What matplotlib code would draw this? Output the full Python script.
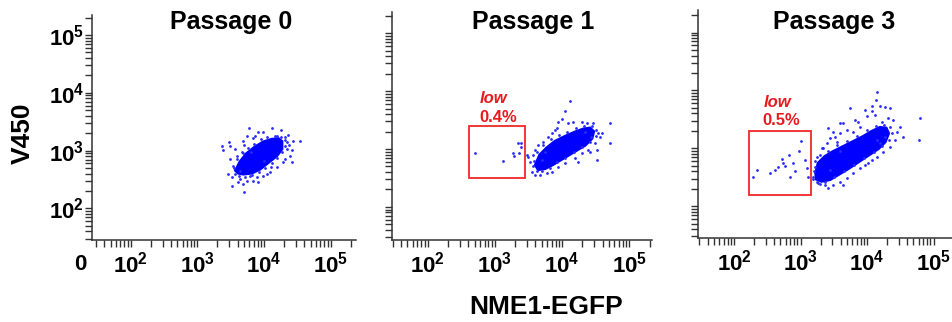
import numpy as np
import matplotlib
matplotlib.use("Agg")
import matplotlib.pyplot as plt
from matplotlib.patches import Rectangle
from matplotlib.ticker import LogLocator, FuncFormatter, NullFormatter

plt.rcParams['font.family'] = ['Liberation Sans', 'DejaVu Sans']
plt.rcParams['font.weight'] = 'bold'
plt.rcParams['mathtext.fontset'] = 'custom'
plt.rcParams['mathtext.rm'] = 'Liberation Sans:bold'
plt.rcParams['mathtext.bf'] = 'Liberation Sans:bold'
plt.rcParams['mathtext.it'] = 'Liberation Sans:bold:italic'

# all values are log10 of fluorescence (x: NME1-EGFP, y: V450)
titles = ['Passage 0', 'Passage 1', 'Passage 3']

# dense core outline of each population
p0_core_x = [3.579, 3.639, 3.739, 3.864, 3.988, 4.114, 4.213, 4.264, 4.264, 4.189, 4.063, 3.939, 3.814, 3.688, 3.613]
p0_core_y = [2.654, 2.798, 2.943, 3.057, 3.144, 3.190, 3.202, 3.156, 3.029, 2.913, 2.798, 2.683, 2.614, 2.597, 2.614]
p1_core_x = [3.607, 3.671, 3.770, 3.894, 4.043, 4.192, 4.316, 4.415, 4.465, 4.440, 4.341, 4.217, 4.093, 3.969, 3.845, 3.745, 3.646]
p1_core_y = [2.724, 2.896, 3.012, 3.127, 3.213, 3.288, 3.340, 3.357, 3.299, 3.184, 3.069, 2.983, 2.896, 2.810, 2.724, 2.666, 2.649]
p3_core_x = [3.233, 3.268, 3.368, 3.493, 3.644, 3.794, 3.944, 4.070, 4.195, 4.285, 4.320, 4.270, 4.170, 4.020, 3.869, 3.719, 3.568, 3.443, 3.318, 3.243]
p3_core_y = [2.567, 2.740, 2.855, 2.942, 3.028, 3.114, 3.201, 3.287, 3.356, 3.345, 3.258, 3.114, 2.999, 2.884, 2.769, 2.654, 2.550, 2.464, 2.435, 2.470]

# scattered events
p0_x = [3.779, 4.114, 4.249, 3.904, 3.989, 4.364, 4.439, 4.539, 3.829, 3.689, 3.479, 3.364, 3.379, 3.489, 3.564, 3.489,
        3.539, 3.464, 3.514, 3.639, 3.689, 3.614, 3.514, 3.704, 3.789, 3.889, 3.989, 4.089, 4.189, 4.314, 4.389, 4.339,
        4.374, 4.414, 4.189, 4.314, 3.739, 3.864, 3.664, 3.589, 3.914, 4.039, 3.839, 3.739, 4.289, 4.414, 3.639, 4.339,
        3.55, 3.60, 3.68, 3.76, 3.85, 3.95, 4.05, 4.16, 4.25, 4.31, 4.31, 4.27, 4.20, 4.12, 4.02, 3.92, 3.82, 3.72,
        3.63, 3.57, 3.70, 4.10, 3.80, 4.00]
p0_y = [3.393, 3.393, 3.364, 3.318, 3.329, 3.271, 3.173, 3.173, 3.214, 3.162, 3.156, 3.075, 3.012, 3.087, 3.029, 2.856,
        2.741, 2.597, 2.539, 2.510, 2.424, 2.453, 2.383, 2.291, 2.568, 2.539, 2.556, 2.637, 2.712, 2.856, 2.914, 3.029,
        3.098, 3.006, 3.248, 3.231, 3.260, 3.248, 2.983, 2.914, 2.464, 2.597, 2.481, 2.481, 2.799, 2.799, 2.654, 3.145,
        2.70, 2.86, 2.95, 3.04, 3.12, 3.20, 3.24, 3.26, 3.24, 3.18, 3.08, 2.98, 2.87, 2.78, 2.70, 2.63, 2.57, 2.55,
        2.56, 2.60, 3.10, 2.72, 2.98, 2.82]
p1_x = [4.117, 4.043, 3.944, 3.993, 4.093, 4.167, 4.291, 4.365, 4.465, 4.539, 4.599, 4.564, 4.713, 4.713, 4.489, 4.514,
        4.415, 4.291, 4.192, 4.043, 3.944, 3.845, 3.770, 3.671, 3.597, 3.547, 3.522, 3.572, 3.597, 3.646, 3.721, 3.795,
        3.845, 3.894, 3.473, 3.497, 3.349, 3.359, 4.514, 4.241, 4.341, 4.430, 3.696, 3.919,
        3.58, 3.63, 3.72, 3.83, 3.95, 4.08, 4.20, 4.33, 4.45, 4.51, 4.50, 4.42, 4.30, 4.18, 4.05, 3.93, 3.82, 3.70,
        3.62, 3.57, 4.38, 3.75,
        2.704, 3.116, 3.274, 3.289, 3.384, 3.388]
p1_y = [3.835, 3.662, 3.472, 3.512, 3.443, 3.472, 3.472, 3.455, 3.443, 3.271, 3.271, 3.213, 3.443, 3.098, 3.098, 2.983,
        2.954, 2.925, 2.839, 2.764, 2.683, 2.609, 2.580, 2.551, 2.551, 2.609, 2.781, 2.896, 2.983, 3.069, 3.127, 3.213,
        3.271, 3.328, 2.896, 2.868, 3.109, 2.925, 2.810, 2.781, 3.299, 3.213, 2.810, 3.357,
        2.80, 2.95, 3.07, 3.17, 3.25, 3.30, 3.36, 3.40, 3.40, 3.33, 3.22, 3.12, 3.03, 2.94, 2.85, 2.77, 2.68, 2.62,
        2.62, 2.70, 2.98, 2.95,
        2.926, 2.798, 2.936, 2.879, 3.109, 3.040]
p3_x = [4.145, 4.135, 4.070, 4.195, 4.270, 4.345, 3.969, 3.744, 4.070, 3.994, 4.120, 4.320, 4.395, 4.220, 3.869, 3.819,
        3.594, 3.644, 3.418, 3.493, 3.594, 3.694, 3.794, 3.894, 4.496, 4.536, 4.446, 4.421, 4.797, 4.787, 4.345, 4.245,
        4.145, 4.020, 3.894, 3.794, 3.694, 3.594, 3.493, 3.368, 3.293, 3.243, 3.192, 3.218, 3.243, 3.343, 3.393, 3.443,
        3.318, 3.543, 3.518, 4.270, 4.195, 3.969, 4.070, 3.644, 3.418,
        3.20, 3.22, 3.30, 3.42, 3.55, 3.70, 3.85, 4.00, 4.13, 4.25, 4.35, 4.37, 4.33, 4.23, 4.10, 3.95, 3.80, 3.65,
        3.50, 3.37, 3.27, 3.19, 3.60, 4.15, 3.45,
        3.007, 2.982, 2.832, 2.717, 2.742, 2.616, 2.541, 2.351, 2.290, 2.666, 2.892, 2.917, 3.093, 3.067, 3.108, 2.842, 2.767]
p3_y = [3.966, 3.834, 3.736, 3.736, 3.719, 3.702, 3.661, 3.690, 3.644, 3.563, 3.575, 3.529, 3.488, 3.460, 3.460, 3.488,
        3.431, 3.431, 3.345, 3.287, 3.258, 3.316, 3.287, 3.373, 3.373, 3.201, 3.287, 3.143, 3.517, 3.143, 3.028, 2.942,
        2.855, 2.740, 2.654, 2.567, 2.481, 2.423, 2.366, 2.366, 2.377, 2.423, 2.510, 2.683, 2.855, 2.999, 3.086, 3.172,
        3.011, 3.114, 3.201, 3.201, 3.086, 2.711, 2.798, 2.366, 2.308,
        2.60, 2.78, 2.88, 2.96, 3.05, 3.13, 3.22, 3.31, 3.38, 3.41, 3.37, 3.27, 3.15, 3.04, 2.94, 2.83, 2.71, 2.60,
        2.50, 2.41, 2.40, 2.47, 2.95, 3.15, 2.62,
        3.132, 2.960, 2.885, 2.810, 2.752, 2.626, 2.568, 2.626, 2.510, 2.683, 2.741, 2.614, 2.654, 2.798, 2.499, 2.510, 2.695]

# "low" gates (x0, x1, y0, y1) and their percentages
gates = [None, (2.615, 3.448, 2.499, 3.397), (2.230, 3.158, 2.193, 3.299)]
gate_pct = [None, '0.4%', '0.5%']

W, H = 953, 322
fig = plt.figure(figsize=(W / 100, H / 100), dpi=100)

# axes extents in pixels (left, right, top, bottom) and log10 limits
boxes = [(92.3, 356, 15, 240), (391.7, 651.7, 11.7, 240), (698.3, 953, 10, 238)]
xlims = [(1.424, 5.379), (1.464, 5.333), (1.463, 5.293)]
ylims = [(1.452, 5.346), (1.428, 5.371), (1.451, 5.389)]
title_x = [230.8, 533, 834]
low_pos = [None, (493.7, 103.3, 498.3, 121.7), (777.5, 106.7, 781, 125)]

cores = [(p0_core_x, p0_core_y), (p1_core_x, p1_core_y), (p3_core_x, p3_core_y)]
events = [(p0_x, p0_y), (p1_x, p1_y), (p3_x, p3_y)]

sup = FuncFormatter(lambda v, pos: r'$10^{%d}$' % round(np.log10(v)))


def fx(px):
    return px / W


def fy(py):
    return 1 - py / H


for i in range(3):
    l, r, t, b = boxes[i]
    ax = fig.add_axes([fx(l), fy(b), (r - l) / W, (b - t) / H])
    ax.set_xscale('log')
    ax.set_yscale('log')
    ax.set_xlim(10 ** xlims[i][0], 10 ** xlims[i][1])
    ax.set_ylim(10 ** ylims[i][0], 10 ** ylims[i][1])

    cx, cy = cores[i]
    ax.fill(10 ** np.array(cx), 10 ** np.array(cy), color='#0000ff', lw=2.5, ec='#0000ff', zorder=2)
    ex, ey = events[i]
    ax.scatter(10 ** np.array(ex), 10 ** np.array(ey), s=4, c='#2a2aff', marker='o', lw=0, zorder=3)

    if gates[i] is not None:
        x0, x1, y0, y1 = gates[i]
        ax.add_patch(Rectangle((10 ** x0, 10 ** y0), 10 ** x1 - 10 ** x0, 10 ** y1 - 10 ** y0,
                               fill=False, ec='#f02828', lw=1.3, zorder=4))
        lx, ly, px2, py2 = low_pos[i]
        fig.text(fx(lx), fy(ly), 'low', color='#e8191f', fontsize=12, style='italic',
                 fontweight='bold', ha='center', va='baseline')
        fig.text(fx(px2), fy(py2), gate_pct[i], color='#e8191f', fontsize=12,
                 fontweight='bold', ha='center', va='baseline')

    for s in ['top', 'right']:
        ax.spines[s].set_visible(False)
    for s in ['left', 'bottom']:
        ax.spines[s].set_linewidth(1.1)
        ax.spines[s].set_color('#333333')

    for axis in (ax.xaxis, ax.yaxis):
        axis.set_major_locator(LogLocator(base=10, numticks=10))
        axis.set_minor_locator(LogLocator(base=10, subs=np.arange(2, 10), numticks=20))
        axis.set_minor_formatter(NullFormatter())
    ax.xaxis.set_major_formatter(sup)
    if i == 0:
        ax.yaxis.set_major_formatter(sup)
    else:
        ax.yaxis.set_major_formatter(NullFormatter())
    ax.tick_params(which='both', direction='out', length=5, width=1, color='#333333')
    ax.tick_params(axis='x', which='major', labelsize=16, pad=3)
    ax.tick_params(axis='y', which='major', labelsize=16, pad=1)

    fig.text(fx(title_x[i]), fy(29.5), titles[i], fontsize=18, fontweight='bold',
             ha='center', va='baseline')

fig.text(fx(80), fy(264), '0', fontsize=16, fontweight='bold', ha='center', va='center')
fig.text(fx(23), fy(133), 'V450', fontsize=19, fontweight='bold', rotation=90,
         ha='center', va='center')
fig.text(fx(546), fy(307), 'NME1-EGFP', fontsize=19, fontweight='bold',
         ha='center', va='center')

fig.savefig('out.png', dpi=100)
